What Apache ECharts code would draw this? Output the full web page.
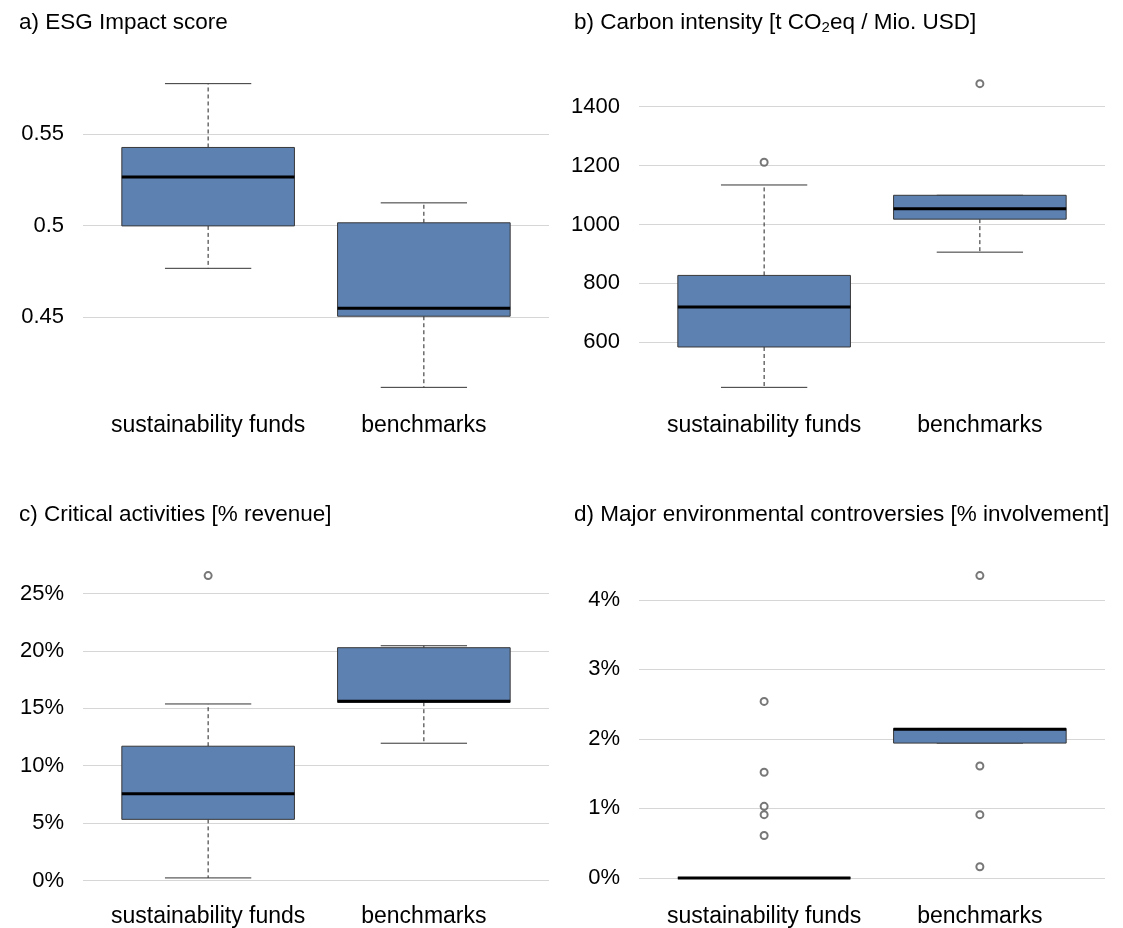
<!DOCTYPE html>
<html><head><meta charset="utf-8">
<script src="https://cdn.jsdelivr.net/npm/echarts@6/dist/echarts.min.js"></script>
<style>html,body{margin:0;padding:0;background:#fff}#c{width:1123px;height:928px}</style>
</head><body><div id="c"></div>
<script>
// ---- data ----
const categories = ['sustainability funds', 'benchmarks'];
// box stats: [lower whisker, q1, median, q3, upper whisker]
const esgFunds = [0.4766, 0.4998, 0.5265, 0.5427, 0.5776];
const esgBench = [0.4115, 0.4504, 0.4547, 0.5015, 0.5124];
const esgFundsOut = [];
const esgBenchOut = [];
const carbonFunds = [447, 584, 720, 827, 1134];
const carbonBench = [906, 1018, 1053, 1099, 1099];
const carbonFundsOut = [1211];
const carbonBenchOut = [1478];
const criticalFunds = [0.23, 5.33, 7.56, 11.70, 15.38];
const criticalBench = [11.96, 15.53, 15.61, 20.28, 20.45];
const criticalFundsOut = [26.56];
const criticalBenchOut = [];
const controvFunds = [0, 0, 0, 0, 0];
const controvBench = [1.94, 1.94, 2.14, 2.15, 2.15];
const controvFundsOut = [2.54, 1.52, 1.03, 0.91, 0.61];
const controvBenchOut = [4.35, 1.61, 0.91, 0.16];
const esgTicks = [0.45, 0.5, 0.55];
const carbonTicks = [600, 800, 1000, 1200, 1400];
const criticalTicks = [0, 5, 10, 15, 20, 25];
const controvTicks = [0, 1, 2, 3, 4];
const titles = [
  '{n|a) ESG Impact score}',
  '{n|b) Carbon intensity [t CO}{s|2}{n|eq / Mio. USD]}',
  '{n|c) Critical activities [% revenue]}',
  '{n|d) Major environmental controversies [% involvement]}'
];

// ---- styling ----
const FONT = 'Liberation Sans, Arial, Helvetica, sans-serif';
const BOX_FILL = '#5d81b1';
const BOX_STROKE = '#383838';
const panels = [
  {stats: [esgFunds, esgBench], outs: [esgFundsOut, esgBenchOut], ticks: esgTicks, fmt: v => String(v),
   grid: {left: 83, top: 71.5, width: 466, height: 328}, title: {left: 19, top: 11}},
  {stats: [carbonFunds, carbonBench], outs: [carbonFundsOut, carbonBenchOut], ticks: carbonTicks, fmt: v => String(v),
   grid: {left: 639, top: 71.5, width: 466, height: 328}, title: {left: 574, top: 11}},
  {stats: [criticalFunds, criticalBench], outs: [criticalFundsOut, criticalBenchOut], ticks: criticalTicks, fmt: v => v + '%',
   grid: {left: 83, top: 563.5, width: 466, height: 327}, title: {left: 19, top: 503}},
  {stats: [controvFunds, controvBench], outs: [controvFundsOut, controvBenchOut], ticks: controvTicks, fmt: v => v + '%',
   grid: {left: 639, top: 563.5, width: 466, height: 327}, title: {left: 574, top: 503}}
];

function extent(p) {
  let vals = [];
  p.stats.forEach(s => vals = vals.concat(s));
  p.outs.forEach(o => vals = vals.concat(o));
  const mn = Math.min.apply(null, vals), mx = Math.max.apply(null, vals);
  const r = mx - mn;
  return [mn - 0.04 * r, mx + 0.04 * r];
}

function renderBox(params, api) {
  const x = api.value(0);
  const lo = api.value(1), q1 = api.value(2), md = api.value(3), q3 = api.value(4), hi = api.value(5);
  const bw = 0.8, cw = 0.4;
  const c = api.coord([x, md]);
  const L = api.coord([x - bw / 2, q3]), R = api.coord([x + bw / 2, q1]);
  const cL = api.coord([x - cw / 2, lo])[0], cR = api.coord([x + cw / 2, lo])[0];
  const yLo = api.coord([x, lo])[1], yHi = api.coord([x, hi])[1];
  const yQ1 = R[1], yQ3 = L[1];
  const cx = c[0];
  const dash = {stroke: '#222', lineWidth: 1, lineDash: [4, 3]};
  const cap = {stroke: '#333', lineWidth: 1};
  return {
    type: 'group',
    children: [
      {type: 'line', shape: {x1: cx, y1: yQ3, x2: cx, y2: yHi}, style: dash},
      {type: 'line', shape: {x1: cx, y1: yQ1, x2: cx, y2: yLo}, style: dash},
      {type: 'line', shape: {x1: cL, y1: yHi, x2: cR, y2: yHi}, style: cap},
      {type: 'line', shape: {x1: cL, y1: yLo, x2: cR, y2: yLo}, style: cap},
      {type: 'rect', shape: {x: L[0], y: yQ3, width: R[0] - L[0], height: yQ1 - yQ3},
       style: {fill: BOX_FILL, stroke: BOX_STROKE, lineWidth: 1}},
      {type: 'line', shape: {x1: L[0], y1: c[1], x2: R[0], y2: c[1]}, style: {stroke: '#000', lineWidth: 3}}
    ]
  };
}

const option = {
  backgroundColor: '#fff',
  animation: false,
  title: [], grid: [], xAxis: [], yAxis: [], series: []
};

panels.forEach((p, i) => {
  const ext = extent(p);
  option.title.push({
    text: titles[i], left: p.title.left, top: p.title.top, padding: 0,
    textStyle: {
      fontFamily: FONT, fontSize: 22.5, color: '#000', fontWeight: 'normal',
      rich: {
        n: {fontFamily: FONT, fontSize: 22.5, color: '#000', lineHeight: 24},
        s: {fontFamily: FONT, fontSize: 15, color: '#000', lineHeight: 13, verticalAlign: 'bottom'}
      }
    }
  });
  option.grid.push(Object.assign({containLabel: false}, p.grid));
  option.xAxis.push({
    type: 'value', gridIndex: i, min: 0.42, max: 2.58,
    axisLine: {show: false}, axisTick: {show: false}, splitLine: {show: false},
    axisLabel: {
      customValues: [1, 2], formatter: v => categories[Math.round(v) - 1],
      fontFamily: FONT, fontSize: 23, color: '#000', margin: 15
    }
  });
  option.yAxis.push({
    type: 'value', gridIndex: i, min: ext[0], max: ext[1],
    axisLine: {show: false},
    axisTick: {show: false, customValues: p.ticks},
    splitLine: {show: true, lineStyle: {color: '#d6d6d6', width: 1}},
    axisLabel: {customValues: p.ticks, formatter: p.fmt, fontFamily: FONT, fontSize: 22, color: '#000', margin: 19}
  });
  option.series.push({
    type: 'custom', xAxisIndex: i, yAxisIndex: i, renderItem: renderBox,
    encode: {x: 0, y: [1, 2, 3, 4, 5]},
    data: p.stats.map((s, k) => [k + 1].concat(s)), silent: true
  });
  const outData = [];
  p.outs.forEach((o, k) => o.forEach(v => outData.push([k + 1, v])));
  option.series.push({
    type: 'scatter', xAxisIndex: i, yAxisIndex: i, symbol: 'emptyCircle', symbolSize: 7,
    itemStyle: {color: '#555', borderColor: '#555', borderWidth: 0.9}, data: outData, silent: true, z: 5
  });
});

const chart = echarts.init(document.getElementById('c'), null, {renderer: 'canvas'});
chart.setOption(option);
</script>
</body></html>
